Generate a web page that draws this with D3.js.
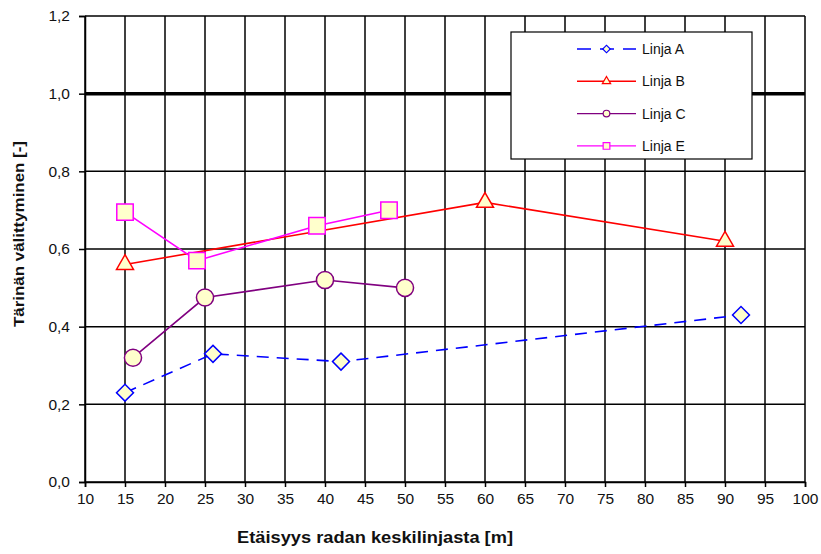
<!DOCTYPE html>
<html>
<head>
<meta charset="utf-8">
<script src="https://cdn.jsdelivr.net/npm/d3@7"></script>
<style>
  body { margin: 0; background: #fff; }
  svg text { font-family: "Liberation Sans", Arial, sans-serif; }
</style>
</head>
<body>
<div id="chart"></div>
<script>
// sarjat (etäisyys m, tärinän välittyminen)
const seriesNames = ["Linja A", "Linja B", "Linja C", "Linja E"];
const linjaA_x = [15, 26, 42, 92];
const linjaA_y = [0.23, 0.33, 0.31, 0.43];
const linjaB_x = [15, 60, 90];
const linjaB_y = [0.56, 0.72, 0.62];
const linjaC_x = [16, 25, 40, 50];
const linjaC_y = [0.32, 0.475, 0.52, 0.50];
const linjaE_x = [15, 24, 39, 48];
const linjaE_y = [0.695, 0.57, 0.66, 0.70];

const xTicks = d3.range(10, 101, 5);
const yTicks = [0, 0.2, 0.4, 0.6, 0.8, 1.0, 1.2];

const W = 821, H = 554;
const margin = {top: 16, right: 16, bottom: 72, left: 85};
const width = W - margin.left - margin.right,
      height = H - margin.top - margin.bottom;

const svg = d3.select("#chart").append("svg")
    .attr("width", W).attr("height", H);
const g = svg.append("g")
    .attr("transform", "translate(" + margin.left + "," + margin.top + ")");

const x = d3.scaleLinear().domain([10, 100]).range([0, width]);
const y = d3.scaleLinear().domain([0, 1.2]).range([height, 0]);
const fmt = d => d3.format(".1f")(d).replace(".", ",");

// ruudukko
g.append("g").selectAll("line").data(xTicks).enter().append("line")
    .attr("x1", d => x(d)).attr("x2", d => x(d))
    .attr("y1", 0).attr("y2", height)
    .attr("stroke", "#000").attr("stroke-width", 1.5);
g.append("g").selectAll("line").data(yTicks).enter().append("line")
    .attr("x1", 0).attr("x2", width)
    .attr("y1", d => y(d)).attr("y2", d => y(d))
    .attr("stroke", "#000")
    .attr("stroke-width", d => d === 1.0 ? 3.5 : 1.5);

// akselit
g.append("g").attr("transform", "translate(0," + height + ")")
    .call(d3.axisBottom(x).tickValues(xTicks).tickSize(5).tickPadding(6))
    .call(a => a.select(".domain").attr("stroke-width", 1.5))
    .call(a => a.selectAll("line").attr("stroke-width", 1.5))
    .call(a => a.selectAll("text").attr("font-size", 15.5).attr("fill", "#111"));
g.append("g")
    .call(d3.axisLeft(y).tickValues(yTicks).tickFormat(fmt).tickSize(6).tickPadding(9))
    .call(a => a.select(".domain").attr("stroke-width", 1.5))
    .call(a => a.selectAll("line").attr("stroke-width", 1.5))
    .call(a => a.selectAll("text").attr("font-size", 15.5).attr("fill", "#111"));

g.append("text")
    .attr("x", 152).attr("y", height + 61)
    .attr("font-size", 16).attr("font-weight", "bold")
    .attr("textLength", 276).attr("lengthAdjust", "spacingAndGlyphs")
    .attr("fill", "#111")
    .text("Etäisyys radan keskilinjasta [m]");
g.append("text")
    .attr("transform", "translate(" + (-61) + "," + 311 + ") rotate(-90)")
    .attr("font-size", 14).attr("font-weight", "bold")
    .attr("textLength", 186).attr("lengthAdjust", "spacingAndGlyphs")
    .attr("fill", "#111")
    .text("Tärinän välittyminen [-]");

const fillC = "#ffffcc";
const series = [
  {name: seriesNames[0], xs: linjaA_x, ys: linjaA_y, color: "#0000ff", dash: "12,8", sym: d3.symbolSquare, rot: 45, size: 144, lsize: 28},
  {name: seriesNames[1], xs: linjaB_x, ys: linjaB_y, color: "#ff0000", dash: null, sym: d3.symbolTriangle, rot: 0, size: 125, lsize: 30},
  {name: seriesNames[2], xs: linjaC_x, ys: linjaC_y, color: "#800080", dash: null, sym: d3.symbolCircle, rot: 0, size: 230, lsize: 35},
  {name: seriesNames[3], xs: linjaE_x, ys: linjaE_y, color: "#ff00ff", dash: null, sym: d3.symbolSquare, rot: 0, size: 270, lsize: 45}
];

const line = d3.line().x(d => x(d[0])).y(d => y(d[1]));

series.forEach(s => {
  const pts = s.xs.map((v, i) => [v, s.ys[i]]);
  g.append("path").datum(pts)
      .attr("d", line).attr("fill", "none")
      .attr("stroke", s.color).attr("stroke-width", 1.6)
      .attr("stroke-dasharray", s.dash);
  g.append("g").selectAll("path").data(pts).enter().append("path")
      .attr("transform", d => "translate(" + x(d[0]) + "," + y(d[1]) + ") rotate(" + s.rot + ")")
      .attr("d", d3.symbol().type(s.sym).size(s.size))
      .attr("fill", fillC).attr("stroke", s.color).attr("stroke-width", 1.5);
});

// selite
const lg = svg.append("g").attr("transform", "translate(511,32)");
lg.append("rect").attr("width", 241).attr("height", 127)
    .attr("fill", "#fff").attr("stroke", "#000").attr("stroke-width", 1.2);
series.forEach((s, i) => {
  const yy = 17 + i * 32.3;
  lg.append("line").attr("x1", 66).attr("x2", 125).attr("y1", yy).attr("y2", yy)
      .attr("stroke", s.color).attr("stroke-width", 1.4)
      .attr("stroke-dasharray", s.dash ? "14,9" : null);
  lg.append("path").attr("transform", "translate(95.5," + yy + ") rotate(" + s.rot + ")")
      .attr("d", d3.symbol().type(s.sym).size(s.lsize))
      .attr("fill", fillC).attr("stroke", s.color).attr("stroke-width", 1.2);
  lg.append("text").attr("x", 131).attr("y", yy + 5)
      .attr("font-size", 14).attr("fill", "#111").text(s.name);
});
</script>
</body>
</html>
